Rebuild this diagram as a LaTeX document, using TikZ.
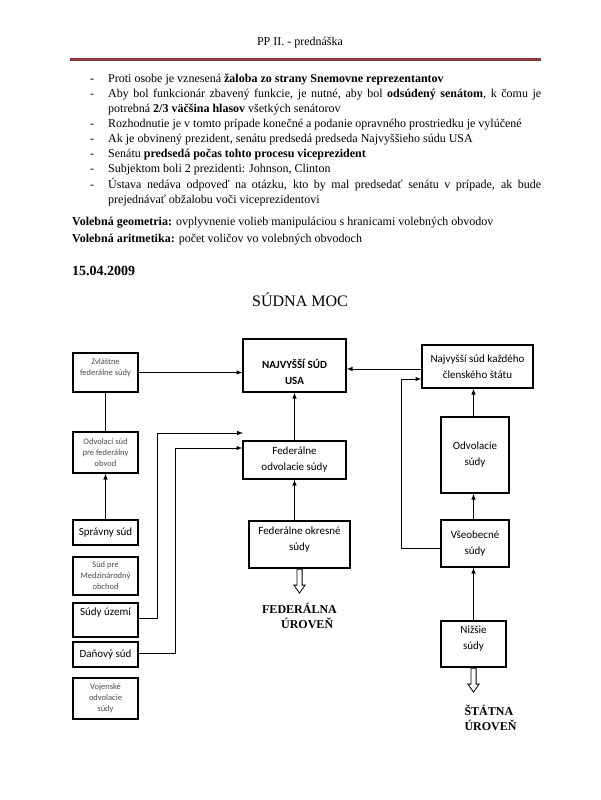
\documentclass[tikz,border=0pt]{standalone}
\usepackage{fontspec}
\setmainfont{Liberation Serif}
\newfontfamily\calibri{Carlito}
\usetikzlibrary{shapes.arrows, arrows, positioning}

\newcommand\odrazka[1]{\par\noindent\hangindent=18pt\hangafter=1\makebox[18pt][l]{-}#1\par}
\newcommand\hlbka[1]{\rule[-#1]{0pt}{#1}}

\tikzset{
    sud/.style={draw, rectangle, line width=1.4pt, align=center, inner sep=2pt, font=\calibri\fontsize{11}{16}\selectfont},
    sudmaly/.style={sud, text=black!70, font=\calibri\fontsize{8.5}{11}\selectfont},
    sipka/.style={->, >=latex, line width=1pt},
    ciara/.style={line width=1pt},
    uroven/.style={align=left, inner sep=0pt, font=\bfseries\fontsize{12}{15.5}\selectfont},
    dolu/.style={draw, single arrow, shape border rotate=270, line width=0.8pt, inner sep=2.2pt, minimum height=24pt, single arrow head extend=3pt, single arrow tip angle=70, anchor=tail},
    riadok/.style={anchor=base west, inner sep=0pt, font=\fontsize{12}{14}\selectfont}
}

\begin{document}
\begin{tikzpicture}[x=1pt, y=-1pt]
    \fill[white] (0,0) rectangle (600,800);
    \useasboundingbox (0,0) rectangle (600,800);

    % Hlavicka a text
    \node (hlavicka) [anchor=base, inner sep=0pt, font=\fontsize{12}{14}\selectfont] at (300,46) {PP II. - prednáška};
    \draw [line width=3pt, draw={rgb,255:red,140;green,55;blue,55}] (70,60) -- (541,60);

    \node (zoznam) [anchor=north west, inner sep=0pt, text width=451pt, align=justify, font=\fontsize{12}{15.1}\selectfont] at (90,67) {%
        \odrazka{Proti osobe je vznesená \textbf{žaloba zo strany Snemovne reprezentantov}}
        \odrazka{Aby bol funkcionár zbavený funkcie, je nutné, aby bol \textbf{odsúdený senátom}, k~čomu je\linebreak potrebná \textbf{2/3 väčšina hlasov} všetkých senátorov}
        \odrazka{Rozhodnutie je v tomto prípade konečné a podanie opravného prostriedku je vylúčené}
        \odrazka{Ak je obvinený prezident, senátu predsedá predseda Najvyššieho súdu USA}
        \odrazka{Senátu \textbf{predsedá počas tohto procesu viceprezident}}
        \odrazka{Subjektom boli 2 prezidenti: Johnson, Clinton}
        \odrazka{Ústava nedáva odpoveď na otázku, kto by mal predsedať senátu v~prípade, ak bude\linebreak prejednávať obžalobu voči viceprezidentovi}};

    \node (geometria) [riadok] at (72,225) {\textbf{Volebná geometria:} ovplyvnenie volieb manipuláciou s hranicami volebných obvodov};
    \node (aritmetika) [riadok] at (72,242) {\textbf{Volebná aritmetika:} počet voličov vo volebných obvodoch};
    \node (datum) [riadok, font=\bfseries\fontsize{14}{16}\selectfont] at (72,275) {15.04.2009};
    \node (nadpis) [anchor=base, inner sep=0pt, font=\fontsize{16}{18}\selectfont] at (300,306) {SÚDNA MOC};

    % Lavy stlpec
    \node (zvlastne) [sudmaly, minimum width=65pt, minimum height=39pt] at (105.5,372.5) {Zvláštne\\federálne súdy\hlbka{10pt}};
    \node (odvolaci) [sudmaly, minimum width=65pt, minimum height=41pt] at (105.5,452.5) {Odvolací súd\\pre federálny\\obvod};
    \node (spravny) [sud, minimum width=65pt, minimum height=25pt] at (105.5,532.5) {Správny súd};
    \node (obchod) [sudmaly, minimum width=65pt, minimum height=38pt] at (105.5,576) {Súd pre\\Medzinárodný\\obchod};
    \node (uzemie) [sud, minimum width=65pt, minimum height=34pt] at (105.5,620) {Súdy území\hlbka{16pt}};
    \node (danovy) [sud, minimum width=65pt, minimum height=25pt] at (105.5,654.5) {Daňový súd};
    \node (vojenske) [sudmaly, minimum width=65pt, minimum height=41pt] at (105.5,698.5) {Vojenské\\odvolacie\\súdy};

    % Federalne sudy
    \node (najusa) [sud, font=\calibri\bfseries\fontsize{11}{16}\selectfont, minimum width=103pt, minimum height=53pt] at (294.5,365.5) {\rule{0pt}{22pt}NAJVYŠŠÍ SÚD\\USA};
    \node (fedodv) [sud, minimum width=103pt, minimum height=38pt] at (294.5,460) {Federálne\\odvolacie súdy};
    \node (fedokres) [sud, minimum width=101pt, minimum height=47pt] at (299.5,544.5) {Federálne okresné\\súdy\hlbka{12pt}};
    \node (fedsipka) [dolu] at (fedokres.south) {};
    \node (federalna) [uroven, below=34pt of fedokres] {FEDERÁLNA\\\hspace*{19pt}ÚROVEŇ};

    % Statne sudy
    \node (najstat) [sud, minimum width=111pt, minimum height=43pt] at (477.5,366.5) {Najvyšší súd každého\\členského štátu};
    \node (odvol) [sud, minimum width=68pt, minimum height=76pt] at (475,455) {Odvolacie\\súdy};
    \node (vseob) [sud, minimum width=68pt, minimum height=47pt] at (475,543.5) {Všeobecné\\súdy};
    \node (nizsie) [sud, minimum width=65pt, minimum height=46pt] at (473.5,644) {Nižšie\\súdy\hlbka{13pt}};
    \node (statsipka) [dolu] at (nizsie.south) {};
    \node (statna) [uroven, below=37pt of nizsie, xshift=17pt] {ŠTÁTNA\\ÚROVEŇ};

    \coordinate (volny) at (243,433);

    % Spojenia vlavo
    \draw [ciara] (zvlastne) -- (odvolaci);
    \draw [sipka] (spravny) -- (odvolaci);
    \draw [sipka] (zvlastne.east) -- (zvlastne.east -| najusa.west);
    \draw [sipka] ([yshift=2pt]uzemie.east) -- ++(19,0) |- (volny);
    \draw [sipka] ([yshift=1.5pt]danovy.east) -- ++(37,0) |- ([yshift=12pt]fedodv.west);

    % Spojenia federalne
    \draw [sipka] (fedodv) -- (najusa);
    \draw [sipka] (fedokres.north -| fedodv.south) -- (fedodv.south);
    \draw [sipka] ([yshift=-2.5pt]najstat.west) -- ([yshift=-2.5pt]najstat.west -| najusa.east);

    % Spojenia statne
    \draw [sipka] (odvol.north -| nizsie.north) -- (najstat.south -| nizsie.north);
    \draw [sipka] (vseob.north -| nizsie.north) -- (odvol.south -| nizsie.north);
    \draw [sipka] (nizsie) -- (nizsie.north |- vseob.south);
    \draw [sipka] ([yshift=-4.5pt]vseob.west) -- ++(-39,0) |- ([yshift=-12.5pt]najstat.west);

\end{tikzpicture}
\end{document}
